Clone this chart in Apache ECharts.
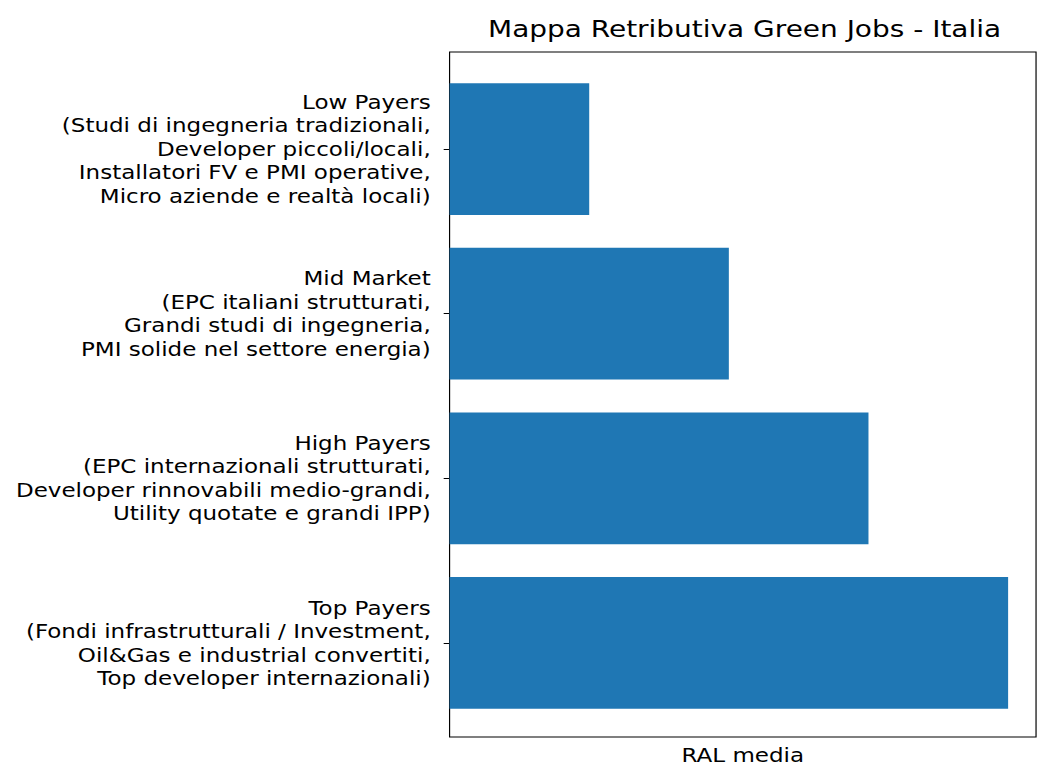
<!DOCTYPE html>
<html>
<head>
<meta charset="utf-8">
<script src="https://cdn.jsdelivr.net/npm/echarts@6/dist/echarts.min.js"></script>
<style>
  html, body { margin: 0; padding: 0; background: #fff; overflow: hidden; }
  /* il riferimento è stirato in orizzontale (~1.18x) */
  #chart { width: 879px; height: 770px; transform: scaleX(1.18); transform-origin: 0 0; }
</style>
</head>
<body>
<div id="chart"></div>
<script>
// categorie dal basso verso l'alto
const categories = [
  'Top Payers\n(Fondi infrastrutturali / Investment,\nOil&Gas e industrial convertiti,\nTop developer internazionali)',
  'High Payers\n(EPC internazionali strutturati,\nDeveloper rinnovabili medio-grandi,\nUtility quotate e grandi IPP)',
  'Mid Market\n(EPC italiani strutturati,\nGrandi studi di ingegneria,\nPMI solide nel settore energia)',
  'Low Payers\n(Studi di ingegneria tradizionali,\nDeveloper piccoli/locali,\nInstallatori FV e PMI operative,\nMicro aziende e realtà locali)'
];
const ralValues = [4, 3, 2, 1];

const chart = echarts.init(document.getElementById('chart'), null, { renderer: 'svg' });
const font = 'DejaVu Sans';

chart.setOption({
  animation: false,
  title: {
    text: 'Mappa Retributiva Green Jobs - Italia',
    left: 626,
    top: 12,
    textAlign: 'center',
    textStyle: { fontFamily: font, fontSize: 23.7, fontWeight: 'normal', color: '#000' }
  },
  grid: [
    // area delle barre (margini come matplotlib)
    { left: 381, right: 1, top: 66.8, bottom: 44.8 },
    // cornice degli assi
    { left: 381, right: 1, top: 52, bottom: 30, show: true, borderColor: '#000', borderWidth: 1 }
  ],
  xAxis: [
    { gridIndex: 0, type: 'value', min: 0, max: 4.2, show: false },
    {
      gridIndex: 1, type: 'value', min: 0, max: 1,
      name: 'RAL media', nameLocation: 'middle', nameGap: 8,
      nameTextStyle: { fontFamily: font, fontSize: 19.5, color: '#000' },
      axisLine: { show: false }, axisTick: { show: false },
      axisLabel: { show: false }, splitLine: { show: false }
    }
  ],
  yAxis: [
    {
      gridIndex: 0, type: 'category', data: categories,
      axisLine: { show: false },
      axisTick: { show: true, alignWithLabel: true, length: 5, lineStyle: { color: '#000' } },
      axisLabel: {
        fontFamily: font, fontSize: 19.5, color: '#000', lineHeight: 23.5,
        align: 'right', margin: 16, interval: 0
      }
    },
    { gridIndex: 1, type: 'value', show: false }
  ],
  series: [{
    type: 'bar',
    xAxisIndex: 0,
    yAxisIndex: 0,
    data: ralValues,
    barCategoryGap: '20%',
    itemStyle: { color: '#1f77b4' }
  }]
});
</script>
</body>
</html>
